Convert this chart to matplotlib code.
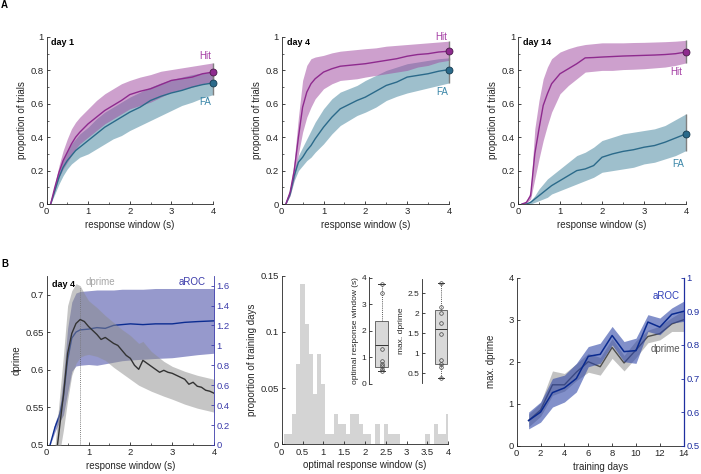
import matplotlib
matplotlib.use('Agg')
import matplotlib.pyplot as plt
import numpy as np
from matplotlib.ticker import MultipleLocator, FuncFormatter

# ---------------- data ----------------
# Panel A: response-window curves (x in s)
a_x = [0.1, 0.2, 0.3, 0.4, 0.5, 0.6, 0.7, 0.8, 1.0, 1.2, 1.4, 1.6, 1.8, 2.0,
       2.25, 2.5, 2.75, 3.0, 3.25, 3.5, 3.75, 4.0]

day1_hit    = [0, 0.10, 0.19, 0.26, 0.31, 0.36, 0.40, 0.43, 0.48, 0.52, 0.56, 0.59, 0.62, 0.655, 0.675, 0.69, 0.715, 0.74, 0.75, 0.76, 0.78, 0.79]
day1_hit_hi = [0, 0.12, 0.23, 0.32, 0.39, 0.45, 0.49, 0.52, 0.57, 0.62, 0.66, 0.69, 0.72, 0.74, 0.76, 0.775, 0.795, 0.805, 0.815, 0.825, 0.835, 0.845]
day1_hit_lo = [0, 0.08, 0.16, 0.21, 0.25, 0.29, 0.33, 0.36, 0.40, 0.44, 0.48, 0.51, 0.54, 0.57, 0.59, 0.61, 0.64, 0.67, 0.685, 0.70, 0.72, 0.73]
day1_fa     = [0, 0.08, 0.16, 0.22, 0.26, 0.29, 0.32, 0.34, 0.38, 0.42, 0.46, 0.49, 0.52, 0.55, 0.58, 0.62, 0.645, 0.665, 0.68, 0.70, 0.715, 0.725]
day1_fa_hi  = [0, 0.10, 0.20, 0.27, 0.32, 0.36, 0.39, 0.42, 0.46, 0.51, 0.55, 0.58, 0.61, 0.64, 0.67, 0.70, 0.725, 0.745, 0.76, 0.775, 0.785, 0.79]
day1_fa_lo  = [0, 0.06, 0.12, 0.17, 0.21, 0.24, 0.26, 0.28, 0.30, 0.33, 0.36, 0.39, 0.41, 0.44, 0.47, 0.50, 0.53, 0.56, 0.59, 0.61, 0.635, 0.655]

day4_hit    = [0, 0.07, 0.20, 0.40, 0.58, 0.67, 0.72, 0.75, 0.79, 0.81, 0.825, 0.83, 0.835, 0.84, 0.85, 0.86, 0.87, 0.885, 0.895, 0.90, 0.91, 0.915]
day4_hit_hi = [0, 0.09, 0.26, 0.52, 0.74, 0.83, 0.87, 0.88, 0.89, 0.905, 0.915, 0.92, 0.925, 0.93, 0.935, 0.945, 0.95, 0.955, 0.96, 0.965, 0.97, 0.975]
day4_hit_lo = [0, 0.05, 0.15, 0.30, 0.43, 0.52, 0.58, 0.63, 0.69, 0.72, 0.74, 0.745, 0.75, 0.76, 0.77, 0.78, 0.79, 0.80, 0.82, 0.83, 0.85, 0.86]
day4_fa     = [0, 0.06, 0.17, 0.25, 0.28, 0.32, 0.35, 0.39, 0.46, 0.52, 0.57, 0.595, 0.62, 0.64, 0.675, 0.71, 0.73, 0.76, 0.77, 0.78, 0.795, 0.805]
day4_fa_hi  = [0, 0.07, 0.20, 0.29, 0.34, 0.39, 0.44, 0.49, 0.57, 0.63, 0.67, 0.69, 0.71, 0.74, 0.77, 0.80, 0.82, 0.84, 0.85, 0.86, 0.87, 0.875]
day4_fa_lo  = [0, 0.05, 0.14, 0.20, 0.23, 0.26, 0.28, 0.31, 0.36, 0.42, 0.47, 0.50, 0.53, 0.55, 0.58, 0.62, 0.645, 0.665, 0.68, 0.695, 0.71, 0.725]

day14_hit    = [0, 0.01, 0.05, 0.30, 0.45, 0.59, 0.66, 0.72, 0.78, 0.81, 0.84, 0.875, 0.877, 0.88, 0.883, 0.886, 0.888, 0.89, 0.892, 0.895, 0.90, 0.91]
day14_hit_hi = [0, 0.015, 0.08, 0.45, 0.62, 0.75, 0.82, 0.87, 0.91, 0.93, 0.945, 0.955, 0.96, 0.965, 0.965, 0.965, 0.967, 0.968, 0.97, 0.972, 0.975, 0.98]
day14_hit_lo = [0, 0.005, 0.03, 0.15, 0.27, 0.38, 0.47, 0.55, 0.66, 0.71, 0.75, 0.79, 0.795, 0.80, 0.80, 0.805, 0.807, 0.81, 0.815, 0.82, 0.83, 0.845]
day14_fa     = [0, 0, 0.01, 0.03, 0.05, 0.07, 0.09, 0.11, 0.14, 0.17, 0.20, 0.21, 0.23, 0.28, 0.30, 0.315, 0.325, 0.34, 0.35, 0.37, 0.395, 0.42]
day14_fa_hi  = [0, 0, 0.02, 0.05, 0.09, 0.12, 0.15, 0.17, 0.21, 0.25, 0.29, 0.31, 0.34, 0.38, 0.40, 0.42, 0.43, 0.44, 0.45, 0.47, 0.505, 0.54]
day14_fa_lo  = [0, 0, 0.0, 0.01, 0.02, 0.03, 0.04, 0.06, 0.08, 0.10, 0.12, 0.14, 0.16, 0.19, 0.20, 0.21, 0.22, 0.24, 0.25, 0.27, 0.29, 0.32]

# Panel B1: day 4 dprime (right axis) and aROC (left axis)
b1_x = [0.1, 0.2, 0.3, 0.4, 0.5, 0.6, 0.7, 0.8, 0.9, 1.0, 1.1, 1.2, 1.3, 1.4, 1.5, 1.6, 1.7, 1.8, 1.9, 2.0,
        2.1, 2.2, 2.3, 2.4, 2.5, 2.6, 2.7, 2.8, 2.9, 3.0, 3.1, 3.2, 3.3, 3.4, 3.5, 3.6, 3.7, 3.8, 3.9, 4.0]
b1_dprime = [-0.5, -0.2, 0.15, 0.5, 0.92, 1.12, 1.22, 1.26, 1.24, 1.19, 1.15, 1.11, 1.06, 1.08, 1.05, 1.02,
             1.0, 0.95, 0.90, 0.87, 0.80, 0.76, 0.85, 0.82, 0.79, 0.76, 0.73, 0.75, 0.73, 0.72, 0.70, 0.68,
             0.66, 0.61, 0.63, 0.59, 0.58, 0.55, 0.54, 0.52]
b1_band_x = [0.1, 0.2, 0.3, 0.4, 0.5, 0.6, 0.7, 0.8, 0.9, 1.0, 1.2, 1.4, 1.6, 1.8, 2.0, 2.2, 2.3, 2.5, 2.8,
             3.0, 3.3, 3.6, 4.0]
b1_dprime_hi = [-0.3, 0.0, 0.45, 0.9, 1.40, 1.55, 1.62, 1.60, 1.52, 1.45, 1.38, 1.30, 1.23, 1.16, 1.10, 1.02,
                1.04, 0.94, 0.84, 0.79, 0.74, 0.70, 0.66]
b1_dprime_lo = [-0.7, -0.4, -0.1, 0.15, 0.45, 0.70, 0.82, 0.88, 0.90, 0.91, 0.89, 0.85, 0.78, 0.72, 0.66, 0.60,
                0.58, 0.54, 0.49, 0.46, 0.41, 0.37, 0.33]
b1_roc_x = [0.08, 0.2, 0.3, 0.4, 0.5, 0.6, 0.7, 0.8, 1.0, 1.2, 1.4, 1.6, 1.8, 2.0, 2.3, 2.6, 3.0, 3.3, 3.6, 4.0]
b1_roc    = [0.5, 0.524, 0.538, 0.564, 0.613, 0.642, 0.650, 0.653, 0.654, 0.656, 0.655, 0.659, 0.660, 0.661,
             0.660, 0.661, 0.661, 0.663, 0.664, 0.665]
b1_roc_hi = [0.5, 0.53, 0.545, 0.59, 0.655, 0.69, 0.702, 0.704, 0.705, 0.706, 0.706, 0.706, 0.707, 0.707,
             0.707, 0.708, 0.708, 0.708, 0.708, 0.708]
b1_roc_lo = [0.5, 0.518, 0.53, 0.54, 0.57, 0.598, 0.605, 0.606, 0.607, 0.606, 0.608, 0.610, 0.612, 0.613,
             0.614, 0.615, 0.616, 0.618, 0.620, 0.622]

# Panel B2: histogram of optimal response window
hist_centers = [0.1, 0.2, 0.3, 0.4, 0.5, 0.6, 0.7, 0.8, 0.9, 1.0, 1.1, 1.2, 1.3, 1.4, 1.5, 1.6, 1.7, 1.8, 1.9, 2.0,
                2.1, 2.2, 2.3, 2.4, 2.5, 2.6, 2.7, 2.8, 2.9, 3.0, 3.1, 3.2, 3.3, 3.4, 3.5, 3.6, 3.7, 3.8, 3.9, 4.0]
hist_props = [0.009, 0.009, 0.027, 0.071, 0.143, 0.107, 0.080, 0.045, 0.080, 0.054, 0.009, 0.009, 0.027, 0.018,
              0.018, 0.009, 0.027, 0.027, 0.018, 0.009, 0.009, 0.0, 0.018, 0.0, 0.018, 0.009, 0.009, 0.009,
              0.0, 0.0, 0.0, 0.0, 0.0, 0.0, 0.009, 0.0, 0.018, 0.009, 0.009, 0.027]

# Insets: per-animal values
opt_window_pts = [3.75, 3.44, 1.31, 0.85, 0.75, 0.66, 0.57, 0.5]
opt_window_box = dict(whislo=0.5, q1=0.64, med=1.47, q3=2.37, whishi=3.75)
max_dprime_pts = [2.75, 2.15, 2.0, 1.75, 1.48, 0.82, 0.73, 0.65, 0.37]
max_dprime_box = dict(whislo=0.37, q1=0.72, med=1.6, q3=2.07, whishi=2.75)

# Panel B3: across training days
days = [1, 2, 3, 4, 5, 6, 7, 8, 9, 10, 11, 12, 13, 14]
dprime_days    = [0.6, 0.85, 1.45, 1.45, 1.75, 2.0, 1.88, 2.34, 1.97, 2.28, 2.6, 2.67, 2.9, 3.0]
dprime_days_hi = [0.75, 1.02, 1.78, 1.72, 1.95, 2.2, 2.1, 2.55, 2.15, 2.5, 2.75, 2.85, 3.05, 3.22]
dprime_days_lo = [0.45, 0.7, 1.2, 1.3, 1.55, 1.75, 1.68, 2.08, 1.78, 2.1, 2.45, 2.52, 2.72, 2.72]
aroc_days      = [0.575, 0.6, 0.658, 0.672, 0.70, 0.766, 0.772, 0.828, 0.78, 0.783, 0.868, 0.853, 0.891, 0.9]
aroc_days_hi   = [0.6, 0.63, 0.70, 0.71, 0.745, 0.795, 0.805, 0.855, 0.81, 0.82, 0.89, 0.88, 0.91, 0.93]
aroc_days_lo   = [0.55, 0.57, 0.615, 0.63, 0.66, 0.735, 0.745, 0.80, 0.75, 0.745, 0.84, 0.83, 0.865, 0.87]

# ---------------- style ----------------
plt.rcParams['font.family'] = ['Liberation Sans', 'DejaVu Sans']
DARK = '#262626'
plt.rcParams.update({
    'font.size': 6.5, 'axes.linewidth': 0.6, 'axes.edgecolor': DARK,
    'xtick.direction': 'in', 'ytick.direction': 'in',
    'xtick.major.size': 2.5, 'ytick.major.size': 2.5,
    'xtick.minor.size': 1.5, 'ytick.minor.size': 1.5,
    'xtick.major.width': 0.6, 'ytick.major.width': 0.6,
    'xtick.minor.width': 0.5, 'ytick.minor.width': 0.5,
    'xtick.color': DARK, 'ytick.color': DARK,
    'xtick.labelsize': 6.8, 'ytick.labelsize': 6.8,
    'axes.labelsize': 7, 'axes.labelcolor': DARK,
    'xtick.major.pad': 2.5, 'ytick.major.pad': 2.0,
    'axes.labelpad': 2.5,
})

HIT = '#8E2A8E'; HIT_BAND = '#A04AA0'; HIT_TXT = '#A43DA4'
FA = '#2B6A8A'; FA_BAND = '#4F8BA3'; FA_TXT = '#3A86A8'
BLUE_AX = '#3B3BAA'; BLUE_AX3 = '#1F2FA0'

W, H = 701, 474
fig = plt.figure(figsize=(W / 100, H / 100), dpi=100)

def rect(l, t, r, b):
    return [l / W, 1 - b / H, (r - l) / W, (b - t) / H]

fmt = FuncFormatter(lambda v, p: '%g' % round(v, 4))

def clean(ax, right=False):
    ax.spines['top'].set_visible(False)
    if not right:
        ax.spines['right'].set_visible(False)

# ---------------- panel A ----------------
a_rects = [rect(46.5, 37, 213, 204), rect(281.7, 37, 449, 204), rect(518, 37, 686, 204)]
a_data = [
    ('day 1', day1_hit, day1_hit_lo, day1_hit_hi, day1_fa, day1_fa_lo, day1_fa_hi, (3.95, 0.885), (3.95, 0.61)),
    ('day 4', day4_hit, day4_hit_lo, day4_hit_hi, day4_fa, day4_fa_lo, day4_fa_hi, (3.95, 1.0), (3.97, 0.67)),
    ('day 14', day14_hit, day14_hit_lo, day14_hit_hi, day14_fa, day14_fa_lo, day14_fa_hi, (3.9, 0.79), (3.95, 0.24)),
]
for r, (day, hit, hlo, hhi, fa, flo, fhi, hpos, fpos) in zip(a_rects, a_data):
    ax = fig.add_axes(r)
    clean(ax)
    ax.fill_between(a_x, flo, fhi, color=FA_BAND, alpha=0.55, lw=0)
    ax.fill_between(a_x, hlo, hhi, color=HIT_BAND, alpha=0.52, lw=0)
    ax.plot(a_x, fa, color=FA, lw=1.0)
    ax.plot(a_x, hit, color=HIT, lw=1.0)
    ax.vlines(a_x[-1], hlo[-1], hhi[-1], color='#7f7f7f', lw=1.0, clip_on=False, zorder=4)
    ax.vlines(a_x[-1], flo[-1], fhi[-1], color='#7f7f7f', lw=1.0, clip_on=False, zorder=4)
    ax.plot(a_x[-1], hit[-1], 'o', ms=5, mfc=HIT, mec='#4a1a4a', mew=0.6, clip_on=False, zorder=5)
    ax.plot(a_x[-1], fa[-1], 'o', ms=5, mfc=FA, mec='#173c50', mew=0.6, clip_on=False, zorder=5)
    ax.set_xlim(0, 4); ax.set_ylim(0, 1)
    ax.set_xticks([0, 1, 2, 3, 4]); ax.set_yticks([0, 0.2, 0.4, 0.6, 0.8, 1])
    ax.xaxis.set_minor_locator(MultipleLocator(0.5))
    ax.yaxis.set_minor_locator(MultipleLocator(0.1))
    ax.xaxis.set_major_formatter(fmt); ax.yaxis.set_major_formatter(fmt)
    ax.set_xlabel('response window (s)')
    ax.set_ylabel('proportion of trials')
    ax.text(0.12, 0.97, day, fontsize=6.5, fontweight='bold', color='black', va='center', ha='left')
    ax.text(hpos[0], hpos[1], 'Hit', color=HIT_TXT, fontsize=7, ha='right', va='center')
    ax.text(fpos[0], fpos[1], 'FA', color=FA_TXT, fontsize=7, ha='right', va='center')

# ---------------- panel B1 ----------------
ax = fig.add_axes(rect(46.7, 275.7, 214, 445))
ax.spines['top'].set_visible(False)
ax.spines['right'].set_visible(False)
ax.fill_between(b1_roc_x, b1_roc_lo, b1_roc_hi, color='#5055AA', alpha=0.6, lw=0)
ax.plot(b1_roc_x, b1_roc, color='#0B2C91', lw=1.0)
ax.set_xlim(0, 4); ax.set_ylim(0.5, 0.725)
ax.set_xticks([0, 1, 2, 3, 4]); ax.set_yticks([0.5, 0.55, 0.6, 0.65, 0.7])
ax.xaxis.set_minor_locator(MultipleLocator(0.5))
ax.xaxis.set_major_formatter(fmt); ax.yaxis.set_major_formatter(fmt)
ax.set_xlabel('response window (s)')
ax.set_ylabel('dprime')
opt_x = b1_x[int(np.argmax(b1_dprime))]
ax.axvline(opt_x, ymin=0, ymax=0.93, color='#555555', lw=0.6, ls=(0, (1, 1.5)), zorder=6)
ax.text(0.12, 0.7135, 'day 4', fontsize=6.5, fontweight='bold', color='black', va='center')
axr = ax.twinx()
axr.spines['top'].set_visible(False)
axr.spines['left'].set_visible(False)
axr.spines['bottom'].set_visible(False)
axr.spines['right'].set_color(BLUE_AX)
axr.fill_between(b1_band_x, b1_dprime_lo, b1_dprime_hi, color='#8c8c8c', alpha=0.5, lw=0)
axr.plot(b1_x, b1_dprime, color='#333333', lw=1.0)
axr.set_ylim(0, 1.7)
axr.set_yticks([0, 0.2, 0.4, 0.6, 0.8, 1.0, 1.2, 1.4, 1.6])
axr.yaxis.set_major_formatter(fmt)
axr.tick_params(axis='y', colors=BLUE_AX, labelcolor=BLUE_AX)
axr.text(0.92, 1.64, 'dprime', color='#A6A6A6', fontsize=7, va='center')
axr.text(3.8, 1.64, 'aROC', color=BLUE_AX, fontsize=7, va='center', ha='right')

# ---------------- panel B2 ----------------
ax = fig.add_axes(rect(281.7, 275.7, 448.3, 444.3))
clean(ax)
centers = np.array(hist_centers)
edges = np.r_[centers - 0.05, centers[-1] + 0.05]
ax.stairs(hist_props, edges, fill=True, color='#D4D4D4', lw=0)
ax.set_xlim(0, 4); ax.set_ylim(0, 0.15)
ax.set_xticks([0, 0.5, 1, 1.5, 2, 2.5, 3, 3.5, 4]); ax.set_yticks([0, 0.05, 0.1, 0.15])
ax.xaxis.set_major_formatter(fmt); ax.yaxis.set_major_formatter(fmt)
ax.set_xlabel('optimal response window (s)')
ax.set_ylabel('proportion of training days')

def inset(r, stats, pts, ylim, yticks, label, wpx, cpx, bw):
    ia = fig.add_axes(r)
    ia.set_facecolor('none')
    for s in ('top', 'right', 'bottom'):
        ia.spines[s].set_visible(False)
    st = dict(stats); st['fliers'] = []
    ia.bxp([st], positions=[cpx], widths=[bw], patch_artist=True, showfliers=False,
           boxprops=dict(facecolor='#D9D9D9', edgecolor='#555555', lw=0.6),
           medianprops=dict(color='#333333', lw=0.7),
           whiskerprops=dict(color='#555555', ls=(0, (1, 1.2)), lw=0.7),
           capprops=dict(color='#333333', lw=0.7), capwidths=[bw * 0.55])
    ia.plot([cpx] * len(pts), pts, 'o', ms=2.6, mfc='none', mec='#404040', mew=0.5, zorder=5)
    ia.set_xlim(0, wpx); ia.set_ylim(*ylim)
    ia.set_xticks([])
    ia.set_yticks(yticks)
    ia.yaxis.set_major_formatter(fmt)
    ia.tick_params(axis='y', labelsize=6, length=2)
    ia.set_ylabel(label, fontsize=6, labelpad=1.5)
    return ia

inset(rect(369, 277, 395, 384), opt_window_box, opt_window_pts, (0, 4.03), [0, 1, 2, 3, 4],
      'optimal response window (s)', 26, 12.5, 13)
inset(rect(422, 279, 452, 383), max_dprime_box, max_dprime_pts, (0.25, 2.85), [0.5, 1, 1.5, 2, 2.5],
      'max. dprime', 30, 19, 12)

# ---------------- panel B3 ----------------
ax = fig.add_axes(rect(516.7, 277.7, 683.7, 445.7))
ax.spines['top'].set_visible(False)
ax.spines['right'].set_visible(False)
ax.fill_between(days, dprime_days_lo, dprime_days_hi, color='#9a9a9a', alpha=0.6, lw=0)
ax.plot(days, dprime_days, color='#4d4d4d', lw=1.0)
ax.set_xlim(0, 14); ax.set_ylim(0, 4)
ax.set_xticks([0, 2, 4, 6, 8, 10, 12, 14]); ax.set_yticks([0, 1, 2, 3, 4])
ax.xaxis.set_major_formatter(fmt); ax.yaxis.set_major_formatter(fmt)
ax.set_xlabel('training days')
ax.set_ylabel('max. dprime', labelpad=9)
ax.text(11.2, 2.3, 'dprime', color='#555555', fontsize=7, va='center')
axr = ax.twinx()
axr.spines['top'].set_visible(False)
axr.spines['left'].set_visible(False)
axr.spines['bottom'].set_visible(False)
axr.spines['right'].set_color(BLUE_AX3)
axr.spines['right'].set_linewidth(0.9)
axr.fill_between(days, aroc_days_lo, aroc_days_hi, color='#2F47A8', alpha=0.6, lw=0)
axr.plot(days, aroc_days, color='#0A2A8F', lw=1.1)
axr.set_ylim(0.5, 1)
axr.set_yticks([0.5, 0.6, 0.7, 0.8, 0.9, 1.0])
axr.yaxis.set_major_formatter(fmt)
axr.tick_params(axis='y', colors=BLUE_AX3, labelcolor=BLUE_AX3)
axr.text(13.7, 0.945, 'aROC', color='#2F3FB8', fontsize=7, va='center', ha='right')

# panel letters
fig.text(1 / W, 1 - 5 / H, 'A', fontsize=7, fontweight='bold', va='center', ha='left')
fig.text(1 / W, 1 - 264 / H, 'B', fontsize=7, fontweight='bold', va='center', ha='left')

fig.savefig('out.png', dpi=100)
